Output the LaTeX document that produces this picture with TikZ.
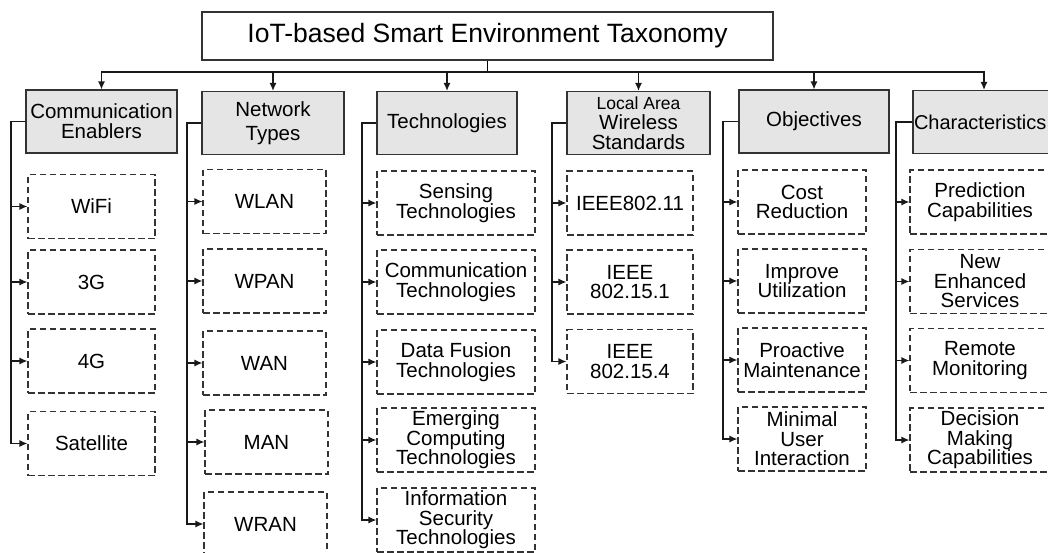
\documentclass[tikz,border=0pt]{standalone}
\usepackage{fontspec}
\setmainfont{Liberation Sans}
\usetikzlibrary{arrows.meta}
\begin{document}
\begin{tikzpicture}[x=1pt, y=-1pt, line width=1.2pt,
  top/.style={draw=black!80, minimum width=571pt, minimum height=48pt, inner sep=0pt, font=\fontsize{26.5}{30}\selectfont},
  cat/.style={draw=black!80, fill=black!10, minimum width=#1, minimum height=63pt, inner sep=0pt, align=center, font=\fontsize{20.5}{20}\selectfont},
  leaf/.style={draw=black!80, dash pattern=on 6.5pt off 3.5pt, minimum width=#1, minimum height=64pt, inner sep=0pt, align=center, font=\fontsize{20.5}{19.5}\selectfont},
  arr/.style={-{Latex[length=8pt,width=7pt]}, black!90}]
  \clip (0,0) rectangle (1048,552);
  % title
  \node[top] (title) at (487.5,36) {IoT-based Smart Environment Taxonomy};
  \coordinate (split) at (487.5,72);
  % categories
  \node[cat=151pt] (ce) at (101.5,121.5) {Communication\\Enablers};
  \node[cat=142pt] (nt) at (273,123) {Network\\[4pt]Types};
  \node[cat=140pt] (tech) at (447,123) {Technologies};
  \node[cat=143pt] (laws) at (638.5,123) {{\fontsize{17.5}{17}\selectfont Local Area}\\Wireless\\Standards};
  \node[cat=150pt] (obj) at (814,121.5) {Objectives};
  \node[cat=142pt, text width=140pt, inner xsep=1pt, align=left, font=\fontsize{20}{20}\selectfont] (char) at (984,122) {Characteristics};
  \draw (title.south) -- (split);
  \draw[arr] (split) -| (ce.north);
  \draw[arr] (split) -| (nt.north);
  \draw[arr] (split) -| (tech.north);
  \draw[arr] (split) -| (laws.north);
  \draw[arr] (split) -| (obj.north);
  \draw[arr] (split) -| (char.north);
  % trunks
  \coordinate (t1) at (11,0);  \coordinate (t2) at (187,0); \coordinate (t3) at (362,0);
  \coordinate (t4) at (552,0); \coordinate (t5) at (723,0); \coordinate (t6) at (896,0);
  % communication enablers
  \node[leaf=127pt] (wifi) at (91.5,206.5) {WiFi};
  \node[leaf=127pt] (g3) at (91.5,282) {3G};
  \node[leaf=127pt] (g4) at (91.5,361) {4G};
  \node[leaf=127pt] (sat) at (91.5,443.5) {Satellite};
  % network types
  \node[leaf=123pt] (wlan) at (264.5,201.5) {WLAN};
  \node[leaf=123pt] (wpan) at (264.5,281) {WPAN};
  \node[leaf=123pt] (wan) at (264.5,363) {WAN};
  \node[leaf=123pt] (man) at (266.5,442) {MAN};
  \node[leaf=123pt] (wran) at (265.5,524) {WRAN};
  % technologies
  \node[leaf=158pt] (sens) at (456,203) {Sensing\\Technologies};
  \node[leaf=158pt] (comm) at (456,282) {Communication\\Technologies};
  \node[leaf=158pt] (fus) at (456,362) {Data Fusion\\Technologies};
  \node[leaf=158pt] (emer) at (456,440) {Emerging\\Computing\\Technologies};
  \node[leaf=158pt] (sec) at (456,520) {Information\\Security\\Technologies};
  % wireless standards
  \node[leaf=126pt] (wifis) at (630,203) {IEEE802.11};
  \node[leaf=126pt] (bt) at (630,282) {IEEE\\802.15.1};
  \node[leaf=126pt] (zig) at (630,361.5) {IEEE\\802.15.4};
  % objectives
  \node[leaf=128pt] (cost) at (802,202) {Cost\\Reduction};
  \node[leaf=128pt] (util) at (802,281) {Improve\\Utilization};
  \node[leaf=128pt] (maint) at (802,360) {Proactive\\Maintenance};
  \node[leaf=128pt] (user) at (802,439) {Minimal\\User\\Interaction};
  % characteristics
  \node[leaf=140pt] (pred) at (980,202) {Prediction\\Capabilities};
  \node[leaf=140pt] (serv) at (980,281.5) {New\\Enhanced\\Services};
  \node[leaf=140pt] (mon) at (980,360.5) {Remote\\Monitoring};
  \node[leaf=140pt] (dec) at (980,440) {Decision\\Making\\Capabilities};
  % connectors
  \draw[arr] (ce.west) -- (ce.west -| t1) |- (wifi.west);
  \draw[arr] (ce.west) -- (ce.west -| t1) |- (g3.west);
  \draw[arr] (ce.west) -- (ce.west -| t1) |- (g4.west);
  \draw[arr] (ce.west) -- (ce.west -| t1) |- (sat.west);
  \draw[arr] (nt.west) -- (nt.west -| t2) |- (wlan.west);
  \draw[arr] (nt.west) -- (nt.west -| t2) |- (wpan.west);
  \draw[arr] (nt.west) -- (nt.west -| t2) |- (wan.west);
  \draw[arr] (nt.west) -- (nt.west -| t2) |- (man.west);
  \draw[arr] (nt.west) -- (nt.west -| t2) |- (wran.west);
  \draw[arr] (tech.west) -- (tech.west -| t3) |- (sens.west);
  \draw[arr] (tech.west) -- (tech.west -| t3) |- (comm.west);
  \draw[arr] (tech.west) -- (tech.west -| t3) |- (fus.west);
  \draw[arr] (tech.west) -- (tech.west -| t3) |- (emer.west);
  \draw[arr] (tech.west) -- (tech.west -| t3) |- (sec.west);
  \draw[arr] (laws.west) -- (laws.west -| t4) |- (wifis.west);
  \draw[arr] (laws.west) -- (laws.west -| t4) |- (bt.west);
  \draw[arr] (laws.west) -- (laws.west -| t4) |- (zig.west);
  \draw[arr] (obj.west) -- (obj.west -| t5) |- (cost.west);
  \draw[arr] (obj.west) -- (obj.west -| t5) |- (util.west);
  \draw[arr] (obj.west) -- (obj.west -| t5) |- (maint.west);
  \draw[arr] (obj.west) -- (obj.west -| t5) |- (user.west);
  \draw[arr] (char.west) -- (char.west -| t6) |- (pred.west);
  \draw[arr] (char.west) -- (char.west -| t6) |- (serv.west);
  \draw[arr] (char.west) -- (char.west -| t6) |- (mon.west);
  \draw[arr] (char.west) -- (char.west -| t6) |- (dec.west);
\end{tikzpicture}
\end{document}
